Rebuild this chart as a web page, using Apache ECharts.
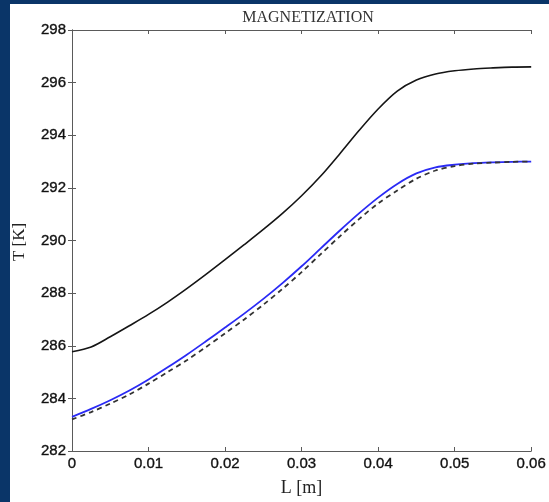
<!DOCTYPE html>
<html>
<head>
<meta charset="utf-8">
<script src="https://cdn.jsdelivr.net/npm/echarts@6/dist/echarts.min.js"></script>
<style>
  html, body { margin: 0; padding: 0; background: #0a3568; }
  #chart { width: 549px; height: 502px; }
</style>
</head>
<body>
<div id="chart"></div>
<script>
// Length along the regenerator [m]
const lengths = [0, 0.0025, 0.005, 0.0075, 0.01, 0.0125, 0.015, 0.0175, 0.02, 0.0225, 0.025,
  0.0275, 0.03, 0.0325, 0.035, 0.0375, 0.04, 0.0425, 0.045, 0.0475, 0.05, 0.0525, 0.055, 0.0575, 0.06];

// Temperature profiles [K]
const tempUpper = [285.77, 285.95, 286.34, 286.76, 287.19, 287.66, 288.17, 288.71, 289.27, 289.84, 290.42,
  291.03, 291.7, 292.45, 293.3, 294.18, 295.0, 295.68, 296.1, 296.33, 296.45, 296.52, 296.56, 296.59, 296.6];
const tempBlue = [283.3, 283.6, 283.93, 284.3, 284.72, 285.18, 285.66, 286.17, 286.69, 287.22, 287.78,
  288.38, 289.02, 289.7, 290.38, 291.03, 291.63, 292.15, 292.55, 292.78, 292.88, 292.94, 292.97, 292.99, 293.0];
const tempDashed = [283.2, 283.48, 283.8, 284.15, 284.56, 285.0, 285.45, 285.95, 286.47, 287.0, 287.56,
  288.16, 288.8, 289.48, 290.16, 290.81, 291.41, 291.9, 292.35, 292.66, 292.83, 292.92, 292.96, 292.99, 293.0];

const xTicks = [0, 0.01, 0.02, 0.03, 0.04, 0.05, 0.06];
const yTicks = [282, 284, 286, 288, 290, 292, 294, 296, 298];

const pairs = (ys) => lengths.map((x, i) => [x, ys[i]]);

const chart = echarts.init(document.getElementById('chart'), null, { renderer: 'canvas' });

const axisLine = { show: true, lineStyle: { color: '#5a5a5a', width: 1 } };
const tick = { show: true, inside: true, length: 4, lineStyle: { color: '#5a5a5a' } };
const labelFont = {
  fontFamily: 'Liberation Sans, Arial, sans-serif', fontSize: 15, color: '#111',
  textBorderColor: '#333', textBorderWidth: 0.4
};
const serif = 'Liberation Serif, Times New Roman, serif';

chart.setOption({
  backgroundColor: '#0a3568',
  animation: false,
  title: {
    text: 'MAGNETIZATION',
    left: 303,
    top: 5,
    textAlign: 'center',
    textStyle: { fontFamily: serif, fontSize: 16, fontWeight: 'normal', color: '#333' }
  },
  graphic: [
    { type: 'rect', z: -10, shape: { x: 10, y: 4, width: 539, height: 498 }, style: { fill: '#ffffff' } },
    { type: 'text', x: 20, y: 242, rotation: Math.PI / 2,
      style: { text: 'T [K]', fontFamily: serif, fontSize: 17,
        fill: '#222', align: 'center', verticalAlign: 'middle' } }
  ],
  grid: { left: 72, right: 15, top: 30, bottom: 49 },
  xAxis: [
    {
      type: 'value', min: xTicks[0], max: xTicks[xTicks.length - 1], interval: 0.01,
      axisLine, axisTick: tick, splitLine: { show: false },
      axisLabel: Object.assign({ margin: 5, formatter: (v) => String(Number(v.toFixed(2))) }, labelFont),
      name: 'L [m]', nameLocation: 'middle', nameGap: 28,
      nameTextStyle: { fontFamily: serif, fontSize: 18, color: '#222' }
    },
    {
      type: 'value', position: 'top', min: xTicks[0], max: xTicks[xTicks.length - 1], interval: 0.01,
      axisLine, axisTick: tick, axisLabel: { show: false }, splitLine: { show: false }
    }
  ],
  yAxis: [
    {
      type: 'value', min: yTicks[0], max: yTicks[yTicks.length - 1], interval: 2,
      axisLine, axisTick: tick, splitLine: { show: false },
      axisLabel: Object.assign({ margin: 6 }, labelFont)
    },
    {
      type: 'value', position: 'right', min: yTicks[0], max: yTicks[yTicks.length - 1], interval: 2,
      axisLine, axisTick: tick, axisLabel: { show: false }, splitLine: { show: false }
    }
  ],
  series: [
    {
      type: 'line', data: pairs(tempUpper), smooth: 0.3, showSymbol: false,
      lineStyle: { color: '#151515', width: 1.6 }
    },
    {
      type: 'line', data: pairs(tempBlue), smooth: 0.3, showSymbol: false,
      lineStyle: { color: '#2a2af5', width: 1.8 }
    },
    {
      type: 'line', data: pairs(tempDashed), smooth: 0.3, showSymbol: false,
      lineStyle: { color: '#333333', width: 1.8, type: [5, 4] }
    }
  ]
});
</script>
</body>
</html>
